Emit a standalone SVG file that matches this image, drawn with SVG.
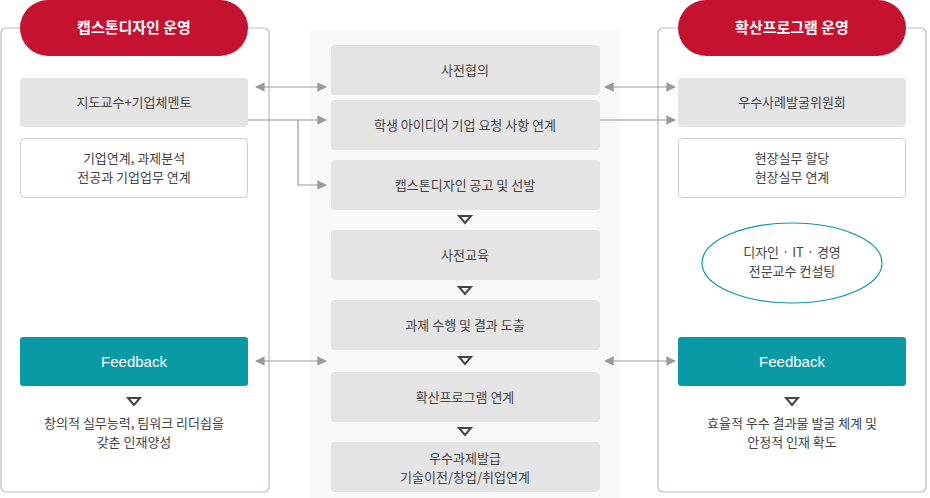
<svg xmlns="http://www.w3.org/2000/svg" width="930" height="498" viewBox="0 0 930 498">
<style>
text{font-family:"Noto Sans CJK KR","Noto Sans",sans-serif;font-size:13px;fill:#444;text-anchor:middle}
.g{fill:#e4e4e4}
.w{fill:#fff;stroke:#ccc}
.pill{fill:#c41230}
.pt{fill:#fff;font-size:15px;font-weight:bold}
.fb{fill:#0a9aa5}
.ft{fill:#fff;font-size:15px;font-family:"Liberation Sans",sans-serif}
.panel{fill:#fff;stroke:#b8bccb;stroke-width:1.2}
.ln{stroke:#999;stroke-width:1.2;fill:none}
.tri{fill:none;stroke:#444;stroke-width:2}
</style>
<defs>
<marker id="a" viewBox="0 0 10 10" refX="9" refY="5" markerWidth="8" markerHeight="8" orient="auto-start-reverse"><path d="M0,0L10,5L0,10z" fill="#999"/></marker>
</defs>
<rect width="930" height="498" fill="#fff"/>
<g id="left-panel">
<rect class="panel" x="1" y="28" width="268" height="464" rx="5"/>
<rect class="pill" x="20" y="0" width="228" height="56" rx="28"/>
<text class="pt" x="134" y="33">캡스톤디자인 운영</text>
</g>
<g id="right-panel">
<rect class="panel" x="658" y="28" width="268" height="464" rx="5"/>
<rect class="pill" x="678" y="0" width="228" height="56" rx="28"/>
<text class="pt" x="792" y="33">확산프로그램 운영</text>
</g>
<rect x="310" y="30" width="310" height="468" fill="#f8f8f8"/>
<g id="l1"><rect class="g" x="20" y="78" width="228" height="49" rx="4"/><text x="134" y="107">지도교수+기업체멘토</text></g>
<g id="l2"><rect class="w" x="20.5" y="138.5" width="227" height="59" rx="4"/><text x="134" y="163">기업연계, 과제분석</text><text x="134" y="182">전공과 기업업무 연계</text></g>
<g id="l3"><rect class="fb" x="20" y="337" width="228" height="49" rx="3"/><text class="ft" x="134" y="367">Feedback</text>
<path class="tri" d="M128,398h12l-6,7z"/><text x="134" y="428">창의적 실무능력, 팀워크 리더쉽을</text><text x="134" y="447">갖춘 인재양성</text></g>
<g id="r1"><rect class="g" x="678" y="78" width="228" height="49" rx="4"/><text x="792" y="107">우수사례발굴위원회</text></g>
<g id="r2"><rect class="w" x="678.5" y="138.5" width="227" height="59" rx="4"/><text x="792" y="163">현장실무 할당</text><text x="792" y="182">현장실무 연계</text></g>
<g id="r3"><ellipse cx="792" cy="263" rx="90" ry="40" fill="#fff" stroke="#0a9aa5" stroke-width="1.2"/><text x="792" y="257">디자인 · IT · 경영</text><text x="792" y="276">전문교수 컨설팅</text></g>
<g id="r4"><rect class="fb" x="678" y="337" width="228" height="49" rx="3"/><text class="ft" x="792" y="367">Feedback</text>
<path class="tri" d="M786,398h12l-6,7z"/><text x="792" y="428">효율적 우수 결과물 발굴 체계 및</text><text x="792" y="447">안정적 인재 확도</text></g>
<g id="m1"><rect class="g" x="331" y="45" width="269" height="50" rx="4"/><text x="465" y="75">사전협의</text></g>
<g id="m2"><rect class="g" x="331" y="100" width="269" height="50" rx="4"/><text x="465" y="130">학생 아이디어 기업 요청 사항 연계</text></g>
<g id="m3"><rect class="g" x="331" y="160" width="269" height="50" rx="4"/><text x="465" y="190">캡스톤디자인 공고 및 선발</text></g>
<g id="m4"><rect class="g" x="331" y="230" width="269" height="50" rx="4"/><text x="465" y="260">사전교육</text></g>
<g id="m5"><rect class="g" x="331" y="300" width="269" height="50" rx="4"/><text x="465" y="330">과제 수행 및 결과 도출</text></g>
<g id="m6"><rect class="g" x="331" y="372" width="269" height="50" rx="4"/><text x="465" y="402">확산프로그램 연계</text></g>
<g id="m7"><rect class="g" x="331" y="442" width="269" height="50" rx="4"/><text x="465" y="463">우수과제발급</text><text x="465" y="482">기술이전/창업/취업연계</text></g>
<g id="connectors">
<path class="ln" d="M256,87H326" marker-start="url(#a)" marker-end="url(#a)"/>
<path class="ln" d="M248,120H326" marker-end="url(#a)"/>
<path class="ln" d="M298,120V185H326" marker-end="url(#a)"/>
<path class="ln" d="M605,87H675" marker-start="url(#a)" marker-end="url(#a)"/>
<path class="ln" d="M600,120H675" marker-end="url(#a)"/>
<path class="ln" d="M256,361H326" marker-start="url(#a)" marker-end="url(#a)"/>
<path class="ln" d="M605,361H675" marker-start="url(#a)" marker-end="url(#a)"/>
<path class="tri" d="M459,216h12l-6,7z"/>
<path class="tri" d="M459,287h12l-6,7z"/>
<path class="tri" d="M459,357h12l-6,7z"/>
<path class="tri" d="M459,428h12l-6,7z"/>
</g>
</svg>
